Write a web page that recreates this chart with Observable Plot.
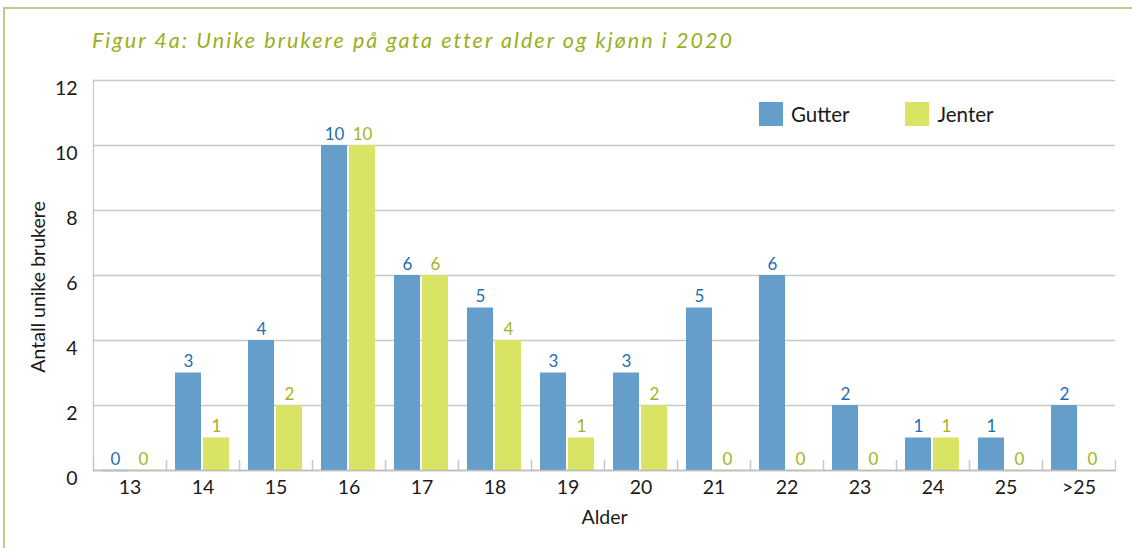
<!DOCTYPE html>
<html>
<head>
<meta charset="utf-8">
<script src="https://cdn.jsdelivr.net/npm/d3@7"></script>
<script src="https://cdn.jsdelivr.net/npm/@observablehq/plot@0.6"></script>
<style>
  html, body { margin: 0; padding: 0; background: #fff; }
  #wrap { position: relative; width: 1132px; height: 548px; overflow: hidden; font-family: Lato, "Open Sans", sans-serif; }
  #border { position: absolute; left: 3px; top: 7px; right: -5px; bottom: -5px; border-left: 2px solid #c6c98f; border-top: 2px solid #c6c98f; }
  #title { position: absolute; left: 92px; top: 30px; font-size: 21.5px; font-style: italic; color: #9aae1e; letter-spacing: 2.05px; line-height: 1; white-space: nowrap; }
  #chart { position: absolute; left: 0; top: 60px; }
  #ylabel { position: absolute; left: 38px; top: 287px; transform: translate(-50%, -50%) rotate(-90deg); font-size: 19.5px; color: #1a1a1a; white-space: nowrap; line-height: 1; }
  #legend { position: absolute; left: 759px; top: 102px; display: flex; align-items: center; font-size: 20.5px; color: #1a1a1a; }
  .item { display: flex; align-items: center; }
  .sw { width: 24px; height: 24px; margin-right: 8px; }
</style>
</head>
<body>
<div id="wrap">
  <div id="border"></div>
  <div id="title"></div>
  <div id="chart"></div>
  <div id="ylabel"></div>
  <div id="legend"></div>
</div>
<script>
const titleText = "Figur 4a: Unike brukere på gata etter alder og kjønn i 2020";
const ages = ["13","14","15","16","17","18","19","20","21","22","23","24","25",">25"];
const series = ["Gutter","Jenter"];
const gutter = [0,3,4,10,6,5,3,3,5,6,2,1,1,2];
const jenter = [0,1,2,10,6,4,1,2,0,0,0,1,0,0];
const yTicks = [0,2,4,6,8,10,12];
const barColors = ["#659ecb","#d9e364"];
const labelColors = ["#1f6db5","#a3b41c"];
const yLabel = "Antall unike brukere";
const xLabel = "Alder";

const data = ages.flatMap((a, i) => [
  {age: a, sex: series[0], value: gutter[i]},
  {age: a, sex: series[1], value: jenter[i]}
]);

const grey = "#c8c8c8";

const chart = Plot.plot({
  width: 1132,
  height: 488,
  marginLeft: 93,
  marginRight: 17,
  marginTop: 20,
  marginBottom: 78,
  style: {fontFamily: "Lato, 'Open Sans', sans-serif", fontSize: "19.5px", color: "#1a1a1a", background: "transparent"},
  fx: {domain: ages, padding: 0},
  x: {domain: series, paddingInner: 0.07, paddingOuter: 0.31, axis: null},
  y: {domain: [0, 12]},
  color: {domain: series, range: barColors},
  marks: [
    Plot.gridY(yTicks, {stroke: grey, strokeOpacity: 1, strokeWidth: 1.3}),
    Plot.frame({anchor: "left", facet: "super", stroke: grey, strokeWidth: 1.3}),
    Plot.frame({anchor: "left", insetTop: 380, stroke: grey, strokeWidth: 1.3}),
    Plot.frame({anchor: "right", insetTop: 380, stroke: grey, strokeWidth: 1.3}),
    Plot.barY(data, {fx: "age", x: "sex", y: "value", fill: "sex"}),
    Plot.tickY(data.filter(d => d.value === 0), {fx: "age", x: "sex", y: "value", stroke: "sex", strokeWidth: 1.5}),
    Plot.ruleY([0], {stroke: "#bdbdbd", strokeWidth: 1.5}),
    Plot.text(data.filter(d => d.sex === series[0]), {fx: "age", x: "sex", y: "value", text: d => String(d.value), fill: labelColors[0], lineAnchor: "bottom", dy: -6, fontSize: 17}),
    Plot.text(data.filter(d => d.sex === series[1]), {fx: "age", x: "sex", y: "value", text: d => String(d.value), fill: labelColors[1], lineAnchor: "bottom", dy: -6, fontSize: 17}),
    Plot.axisY(yTicks, {anchor: "left", tickSize: 0, tickPadding: 16, dy: 8, fontSize: 19.5, label: null}),
    Plot.axisFx({anchor: "bottom", tickSize: 0, tickPadding: 10, fontSize: 19.5, label: xLabel, labelAnchor: "center", labelOffset: 53, labelArrow: false})
  ]
});
document.getElementById("chart").appendChild(chart);
document.getElementById("title").textContent = titleText;
document.getElementById("ylabel").textContent = yLabel;

const color = chart.scale("color");
const legend = document.getElementById("legend");
series.forEach((s, i) => {
  const item = document.createElement("div");
  item.className = "item";
  if (i > 0) item.style.marginLeft = "56px";
  const sw = document.createElement("div");
  sw.className = "sw";
  sw.style.background = color.apply(s);
  const t = document.createElement("span");
  t.textContent = s;
  item.appendChild(sw);
  item.appendChild(t);
  legend.appendChild(item);
});
</script>
</body>
</html>
